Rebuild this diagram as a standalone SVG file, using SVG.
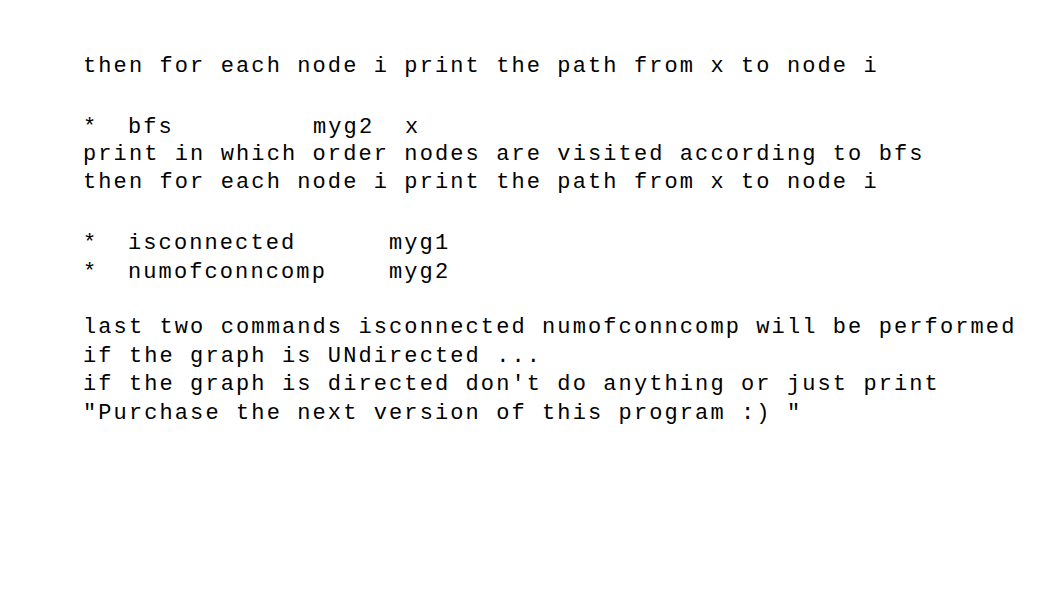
<svg xmlns="http://www.w3.org/2000/svg" width="1057" height="592" viewBox="0 0 1057 592">
<style>text{font-family:"Liberation Mono","Courier New",monospace;font-size:22px;letter-spacing:2.1px;fill:#000}</style>
<rect width="1057" height="592" fill="#fff"/>
<g id="text">
<text x="83" y="72">then for each node i print the path from x to node i</text>
<text x="83" y="133">*</text><text x="128" y="133">bfs</text><text x="313" y="133">myg2</text><text x="405" y="133">x</text>
<text x="83" y="160">print in which order nodes are visited according to bfs</text>
<text x="83" y="188">then for each node i print the path from x to node i</text>
<text x="83" y="249">*</text><text x="128" y="249">isconnected</text><text x="389" y="249">myg1</text>
<text x="83" y="278">*</text><text x="128" y="278">numofconncomp</text><text x="389" y="278">myg2</text>
<text x="83" y="333">last two commands isconnected numofconncomp will be performed</text>
<text x="83" y="362">if the graph is UNdirected ...</text>
<text x="83" y="390">if the graph is directed don't do anything or just print</text>
<text x="83" y="419">"Purchase the next version of this program :) "</text>
</g>
</svg>
